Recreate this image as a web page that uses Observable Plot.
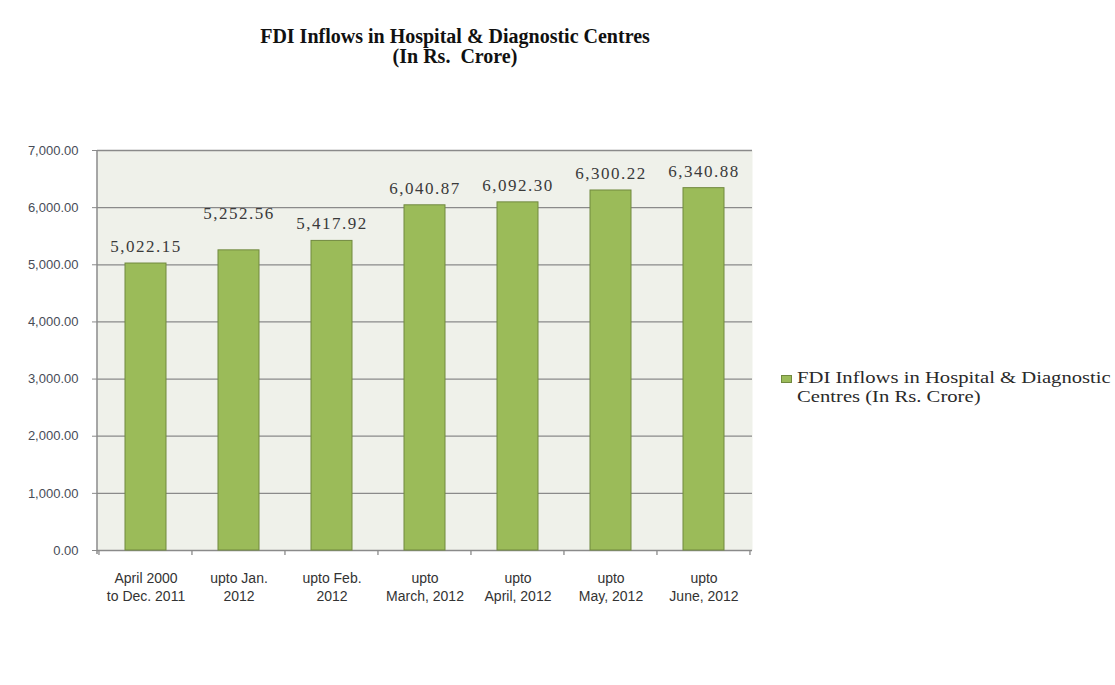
<!DOCTYPE html>
<html>
<head>
<meta charset="utf-8">
<script src="https://cdn.jsdelivr.net/npm/d3@7"></script>
<script src="https://cdn.jsdelivr.net/npm/@observablehq/plot@0.6"></script>
<style>
  html, body { margin: 0; padding: 0; background: #fff; overflow: hidden; }
  #wrap { position: relative; width: 1115px; height: 685px; overflow: hidden; }
  #title { position: absolute; left: 0; top: 26px; width: 910px; text-align: center;
           font-family: "Liberation Serif", "Times New Roman", serif; font-weight: bold;
           font-size: 20px; line-height: 20px; color: #111; }
  #legend { position: absolute; left: 781px; top: 368px; white-space: nowrap; }
  #legend .sw { position: absolute; left: 0; top: 7px; width: 9px; height: 6px;
                background: #9bbb59; border: 1px solid #71893f; }
  #legend .tx { position: absolute; left: 16px; top: 0; white-space: nowrap;
                font-family: "Liberation Serif", "Times New Roman", serif; font-size: 17.5px;
                line-height: 19px; color: #2a2a2a; transform: scaleX(1.18); transform-origin: 0 0; }
  .vlabel { letter-spacing: 1.5px; }
</style>
</head>
<body>
<div id="wrap">
  <div id="title">FDI Inflows in Hospital &amp; Diagnostic Centres<br>(In Rs.&nbsp; Crore)</div>
  <div id="legend"><span class="sw"></span><div class="tx">FDI Inflows in Hospital &amp; Diagnostic<br>Centres (In Rs. Crore)</div></div>
</div>
<script>
const categories = [
  "April 2000\nto Dec. 2011",
  "upto Jan.\n2012",
  "upto Feb.\n2012",
  "upto\nMarch, 2012",
  "upto\nApril, 2012",
  "upto\nMay, 2012",
  "upto\nJune, 2012"
];
const values = [5022.15, 5252.56, 5417.92, 6040.87, 6092.30, 6300.22, 6340.88];
const yTicks = [0, 1000, 2000, 3000, 4000, 5000, 6000, 7000];

const data = categories.map((c, i) => ({cat: c, value: values[i], i}));
const fmt = d3.format(",.2f");
const padInner = 0.56;

// boundary ticks below the category axis, placed from the band scale
function boundaryTicks(index, scales, values_, dims) {
  const x = scales.x;
  const step = x(categories[1]) - x(categories[0]);
  const bw = step * (1 - padInner);
  const g = d3.create("svg:g");
  const y0 = dims.height - dims.marginBottom;
  const xs = categories.map(c => x(c) - step * padInner / 2);
  xs.push(x(categories[categories.length - 1]) + bw + step * padInner / 2);
  for (const bx of xs) {
    g.append("line").attr("x1", bx).attr("x2", bx).attr("y1", y0).attr("y2", y0 + 5)
      .attr("stroke", "#8a8a8a").attr("stroke-width", 1.3);
  }
  g.append("line").attr("x1", dims.marginLeft).attr("x2", dims.marginLeft)
    .attr("y1", dims.marginTop).attr("y2", y0 + 4)
    .attr("stroke", "#8a8a8a").attr("stroke-width", 1.5);
  return g.node();
}

const plot = Plot.plot({
  width: 1115,
  height: 685,
  marginLeft: 97,
  marginRight: 363,
  marginTop: 150,
  marginBottom: 135,
  style: {background: "transparent", overflow: "visible"},
  x: {domain: categories, paddingInner: padInner, paddingOuter: padInner / 2, align: 0.5},
  y: {domain: [0, 7000]},
  marks: [
    Plot.frame({fill: "#eff1ea", stroke: null}),
    Plot.gridY(yTicks, {stroke: "#8a8a8a", strokeOpacity: 1, strokeWidth: 1.3}),
    Plot.barY(data, {x: "cat", y: "value", fill: "#9bbb59", stroke: "#71893f", strokeWidth: 1}),
    boundaryTicks,
    Plot.axisY({
      ticks: yTicks, tickFormat: fmt, tickSize: 5, tickPadding: 14,
      stroke: "#8a8a8a", fill: "#474c57", fontSize: 13, label: null,
      fontFamily: "'Liberation Sans', Arial, sans-serif"
    }),
    Plot.axisX({
      tickSize: 0, tickPadding: 20, fontSize: 14, lineHeight: 1.29,
      fill: "#333", label: null,
      fontFamily: "'Liberation Sans', Arial, sans-serif"
    }),
    Plot.text(data.filter(d => d.i !== 1), {
      x: "cat", y: "value", text: d => fmt(d.value), dy: -17,
      fontFamily: "'Liberation Serif', 'Times New Roman', serif", fontSize: 17,
      fill: "#3a3a3a", className: "vlabel"
    }),
    Plot.text(data.filter(d => d.i === 1), {
      x: "cat", y: "value", text: d => fmt(d.value), dy: -37,
      fontFamily: "'Liberation Serif', 'Times New Roman', serif", fontSize: 17,
      fill: "#3a3a3a", className: "vlabel"
    })
  ]
});
plot.style.position = "absolute";
plot.style.left = "0";
plot.style.top = "0";
document.getElementById("wrap").prepend(plot);
</script>
</body>
</html>
